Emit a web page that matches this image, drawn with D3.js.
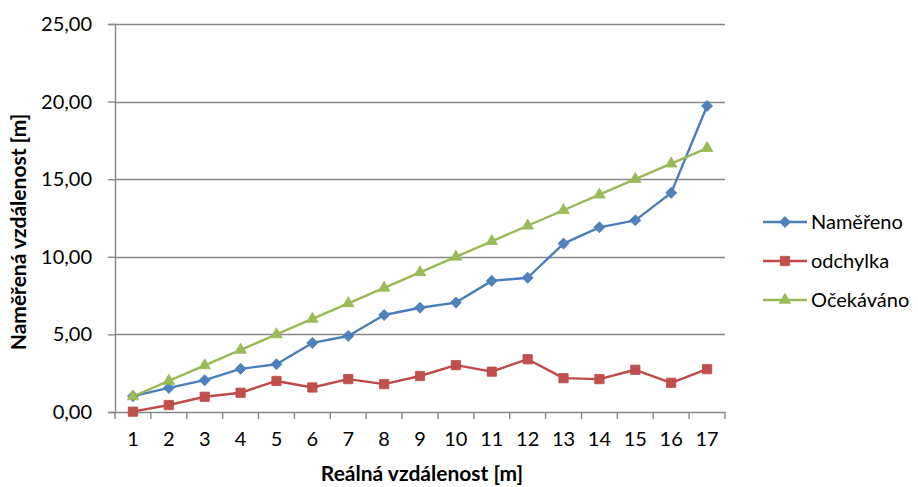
<!DOCTYPE html>
<html>
<head>
<meta charset="utf-8">
<script src="https://cdn.jsdelivr.net/npm/d3@7"></script>
<style>
  html, body { margin: 0; padding: 0; background: #ffffff; }
  svg { display: block; }
  text { font-family: "Lato", "Open Sans", sans-serif; fill: #000; }
</style>
</head>
<body>
<svg id="chart" width="918" height="487"></svg>
<script>
// Real distance categories [m]
const categories = [1, 2, 3, 4, 5, 6, 7, 8, 9, 10, 11, 12, 13, 14, 15, 16, 17];
// Measured distance [m]
const namereno = [1.02, 1.55, 2.05, 2.78, 3.08, 4.45, 4.9, 6.25, 6.72, 7.05, 8.45, 8.65, 10.85, 11.9, 12.35, 14.12, 19.72];
// Deviation [m]
const odchylka = [0.02, 0.45, 0.98, 1.24, 2.0, 1.58, 2.12, 1.8, 2.32, 3.02, 2.6, 3.4, 2.18, 2.12, 2.72, 1.88, 2.76];
// Expected distance [m]
const ocekavano = [1, 2, 3, 4, 5, 6, 7, 8, 9, 10, 11, 12, 13, 14, 15, 16, 17];
// Value axis ticks
const yTicks = [0, 5, 10, 15, 20, 25];

const seriesNames = ["Naměřeno", "odchylka", "Očekáváno"];
const seriesValues = [namereno, odchylka, ocekavano];

const styles = [
  { line: "#4A7EBB", fill: "#4F81BD", symbol: d3.symbolDiamond2, size: 78 },
  { line: "#BE4B48", fill: "#C0504D", symbol: d3.symbolSquare2, size: 110 },
  { line: "#98B954", fill: "#9BBB59", symbol: d3.symbolTriangle2, size: 95 }
];

const plot = { left: 115, right: 725, top: 24, bottom: 412 };
const labelSize = "20px";
const titleSize = "21px";

const svg = d3.select("#chart");

const x = d3.scaleBand()
  .domain(categories)
  .range([plot.left, plot.right])
  .paddingInner(0).paddingOuter(0);

const y = d3.scaleLinear()
  .domain([0, 25])
  .range([plot.bottom, plot.top]);

const gridColor = "#878787";
const fmt = v => d3.format(".2f")(v).replace(".", ",");

// Horizontal gridlines
svg.append("g")
  .selectAll("line")
  .data(yTicks.filter(t => t > 0))
  .join("line")
  .attr("x1", plot.left).attr("x2", plot.right)
  .attr("y1", d => Math.round(y(d)) + 0.5).attr("y2", d => Math.round(y(d)) + 0.5)
  .attr("stroke", gridColor).attr("stroke-width", 1.4);

// Value axis
const yAxis = svg.append("g")
  .attr("transform", `translate(${plot.left},0)`)
  .call(d3.axisLeft(y).tickValues(yTicks).tickFormat(fmt).tickSize(7).tickPadding(16));
yAxis.select(".domain").attr("stroke", gridColor).attr("stroke-width", 1.4);
yAxis.selectAll(".tick line").attr("stroke", gridColor).attr("stroke-width", 1.4);
yAxis.selectAll(".tick text")
  .style("font-size", labelSize)
  .style("font-family", "Lato, 'Open Sans', sans-serif")
  .attr("fill", "#000");

// Category axis with ticks on band boundaries
const xAxisG = svg.append("g")
  .attr("transform", `translate(0,${plot.bottom})`);
xAxisG.append("line")
  .attr("x1", plot.left).attr("x2", plot.right)
  .attr("y1", 0.5).attr("y2", 0.5)
  .attr("stroke", gridColor).attr("stroke-width", 1.4);
const bounds = categories.map(c => x(c)).concat([x(categories[categories.length - 1]) + x.bandwidth()]);
xAxisG.selectAll("line.tk")
  .data(bounds)
  .join("line")
  .attr("class", "tk")
  .attr("x1", d => d).attr("x2", d => d)
  .attr("y1", 0).attr("y2", 7)
  .attr("stroke", gridColor).attr("stroke-width", 1.4);
xAxisG.selectAll("text")
  .data(categories)
  .join("text")
  .attr("x", d => x(d) + x.bandwidth() / 2)
  .attr("y", 34)
  .attr("text-anchor", "middle")
  .style("font-size", labelSize)
  .text(d => d);

// Series lines and markers
const cx = i => x(categories[i]) + x.bandwidth() / 2;
const line = d3.line().x((d, i) => cx(i)).y(d => y(d));

seriesValues.forEach((vals, s) => {
  const g = svg.append("g");
  g.append("path")
    .datum(vals)
    .attr("d", line)
    .attr("fill", "none")
    .attr("stroke", styles[s].line)
    .attr("stroke-width", 2.4)
    .attr("stroke-linejoin", "round");
  g.selectAll("path.m")
    .data(vals)
    .join("path")
    .attr("class", "m")
    .attr("d", d3.symbol().type(styles[s].symbol).size(styles[s].size))
    .attr("transform", (d, i) => `translate(${cx(i)},${y(d)})`)
    .attr("fill", styles[s].fill)
    .attr("stroke", styles[s].line)
    .attr("stroke-width", 0.8);
});

// Axis titles
svg.append("text")
  .attr("x", 422)
  .attr("y", 481)
  .attr("text-anchor", "middle")
  .style("font-size", titleSize)
  .style("font-weight", "bold")
  .text("Reálná vzdálenost [m]");

svg.append("text")
  .attr("transform", "translate(26,232) rotate(-90)")
  .attr("text-anchor", "middle")
  .style("font-size", titleSize)
  .style("font-weight", "bold")
  .text("Naměřená vzdálenost [m]");

// Legend
const legend = svg.append("g");
const legendY = [222, 261, 300];
seriesNames.forEach((name, s) => {
  const g = legend.append("g").attr("transform", `translate(0,${legendY[s]})`);
  g.append("line")
    .attr("x1", 763).attr("x2", 807)
    .attr("y1", 0).attr("y2", 0)
    .attr("stroke", styles[s].line).attr("stroke-width", 2.4);
  g.append("path")
    .attr("d", d3.symbol().type(styles[s].symbol).size(styles[s].size))
    .attr("transform", "translate(785,0)")
    .attr("fill", styles[s].fill)
    .attr("stroke", styles[s].line)
    .attr("stroke-width", 0.8);
  g.append("text")
    .attr("x", 811)
    .attr("y", 0)
    .attr("dy", "0.35em")
    .style("font-size", labelSize)
    .text(name);
});
</script>
</body>
</html>
